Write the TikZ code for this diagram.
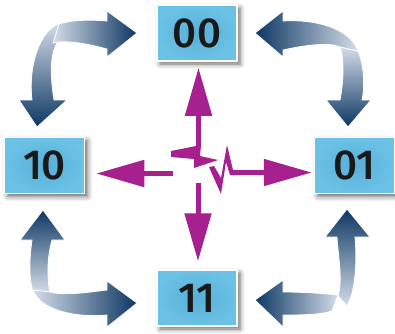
\documentclass[tikz,border=0pt]{standalone}
\usepackage{fontspec}
\setsansfont{Fira Sans}[BoldFont={Fira Sans Medium}]
\usetikzlibrary{arrows.meta,shadows.blur}
\definecolor{cellblue}{HTML}{6BC2E6}
\definecolor{celldeep}{HTML}{58AED6}
\definecolor{zapcol}{HTML}{A6218F}
\definecolor{navydark}{HTML}{0D3763}
\definecolor{navymid}{HTML}{3F5F88}
\definecolor{navylight}{HTML}{D4DCE8}
\tikzset{
	cell/.style={rectangle, minimum width=80pt, minimum height=56pt, inner color=celldeep, outer color=cellblue, draw=white, line width=1.5pt, text=black!90, font=\sffamily\bfseries\fontsize{42}{42}\selectfont, blur shadow={shadow xshift=3pt, shadow yshift=-3pt, shadow blur radius=5pt, shadow opacity=60}},
	zap/.style={line width=5pt, draw=zapcol, -{Triangle[length=48pt,width=26pt]}},
	bolt/.style={fill=zapcol},
	swoop/.style={draw=white, line width=0.8pt}
}

\begin{document}
\begin{tikzpicture}[x=1pt,y=-1pt]
				\useasboundingbox (0,0) rectangle (395,333);
				
				\shade[swoop, top color=navylight, middle color=navymid, bottom color=navydark] (60,23) .. controls (40,30) and (28,65) .. (32,100) -- (19,100) -- (37,127) -- (67,100) -- (54,100) .. controls (50,75) and (50,55) .. (57,43) -- cycle;
				\shade[swoop, left color=navylight, middle color=navymid, right color=navydark] (59,24) .. controls (75,19) and (95,20) .. (107,21) -- (107,11) -- (137,33) -- (107,57) -- (107,49) .. controls (85,43) and (65,40) .. (53,43) -- cycle;
				
				\shade[swoop, top color=navylight, middle color=navymid, bottom color=navydark] (340,47) .. controls (345,60) and (343,85) .. (340,100) -- (326,100) -- (348,127) -- (371,100) -- (362,100) .. controls (365,85) and (364,65) .. (358,51) -- cycle;
				\shade[swoop, right color=navylight, middle color=navymid, left color=navydark] (358,51) .. controls (350,28) and (315,19) .. (283,21) -- (283,11) -- (255,33) -- (283,57) -- (283,50) .. controls (305,45) and (330,42) .. (340,47) -- cycle;
				
				\shade[swoop, bottom color=navylight, middle color=navymid, top color=navydark] (338,296) .. controls (343,280) and (338,255) .. (337,237) -- (325,237) -- (347,209) -- (370,237) -- (355,237) .. controls (357,260) and (356,290) .. (347,306) -- cycle;
				\shade[swoop, right color=navylight, middle color=navymid, left color=navydark] (338,295) .. controls (320,293) and (300,292) .. (283,292) -- (283,280) -- (255,300) -- (283,327) -- (283,315) .. controls (300,315) and (320,315) .. (332,311) -- cycle;
				
				\shade[swoop, bottom color=navylight, middle color=navymid, top color=navydark] (33,292) .. controls (28,275) and (30,255) .. (32,240) -- (20,240) -- (43,210) -- (65,240) -- (52,240) .. controls (47,258) and (47,278) .. (50,292) -- cycle;
				\shade[swoop, left color=navylight, middle color=navymid, right color=navydark] (50,292) .. controls (65,296) and (90,292) .. (107,290) -- (107,281) -- (137,303) -- (107,327) -- (107,315) .. controls (75,318) and (40,310) .. (33,290) -- cycle;
				
				\node[cell] (b00) at (197,33) {00};
				\node[cell] (b10) at (44.5,165.5) {10};
				\node[cell] (b01) at (354.5,165.5) {01};
				\node[cell] (b11) at (197,298) {11};
				
				\coordinate (cu) at (198.5,148);
				\coordinate (cd) at (198,183);
				\coordinate (cl) at (173,173.5);
				\coordinate (cr) at (232,172.5);
				\draw[zap, shorten >=6pt] (cu) -- (cu |- b00.south);
				\draw[zap, shorten >=8pt] (cd) -- (cd |- b11.north);
				\draw[zap, shorten >=11pt] (cl) -- (cl -| b10.east);
				\draw[zap, shorten >=2pt] (cr) -- (cr -| b01.west);
				
				\fill[bolt] (201,145) -- (171,151) -- (171,157) -- (194,159) -- (194,168) -- (218,160) -- (200,156) -- cycle;
				\fill[bolt] (209,167) -- (221,194) -- (226,162) -- (230,175) -- (236,175) -- (236,170) -- (233,170) -- (227,145) -- (221,178) -- (214,166) -- cycle;
			\end{tikzpicture}
\end{document}
